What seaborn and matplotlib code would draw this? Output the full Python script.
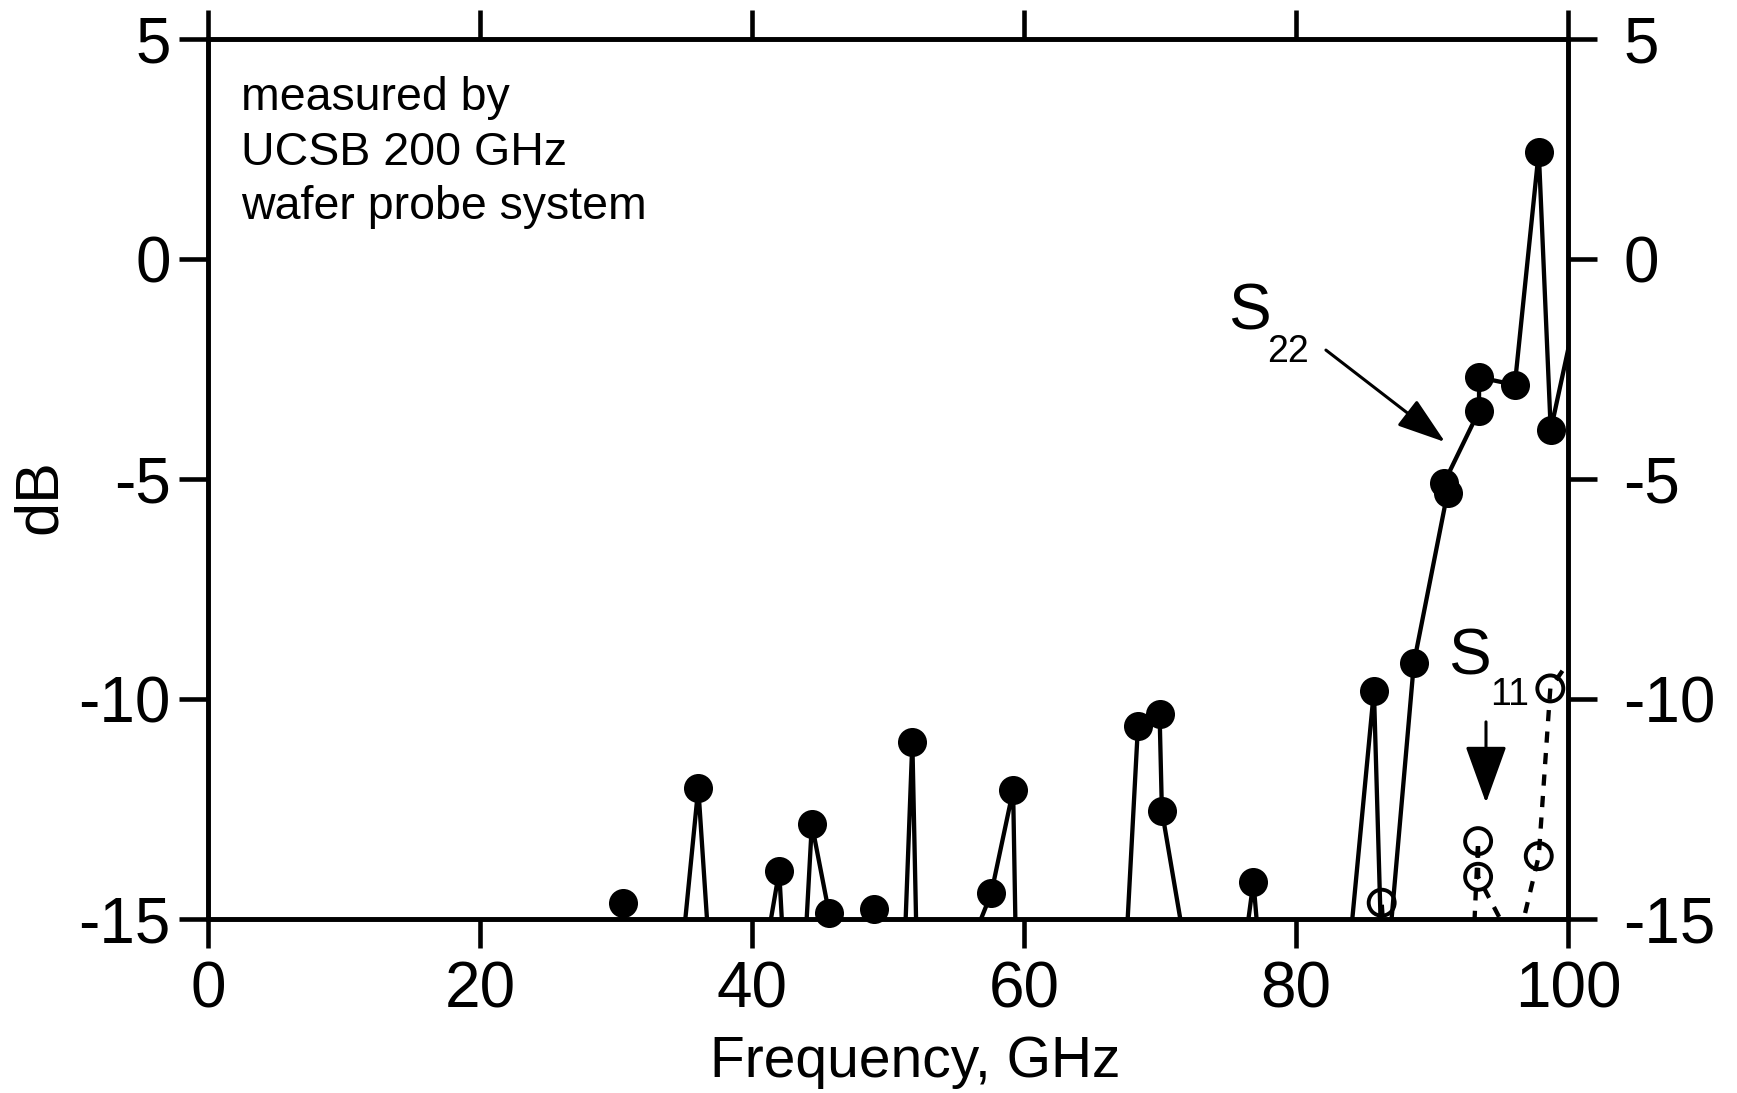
import pandas as pd
import matplotlib.pyplot as plt
import seaborn as sns

# S22 trace (points below -15 dB run off the bottom of the plot)
s22_freq = [28.0, 30.5, 33.5, 36.05, 38.0, 42.0, 43.1, 44.4, 45.67, 47.3, 49.0,
            50.2, 51.79, 52.3, 57.59, 59.2, 59.7, 65.9, 68.38, 69.97, 70.14,
            74.3, 76.87, 80.4, 85.73, 86.42, 88.67, 91.14, 90.9, 93.46, 93.46,
            96.09, 97.85, 98.73, 100.4]
s22_db = [-22, -14.64, -20, -12.02, -21.1, -13.91, -20.2, -12.85, -14.87, -22, -14.77,
          -24, -10.97, -18.5, -14.42, -12.07, -21, -25, -10.61, -10.35, -12.54,
          -20.1, -14.15, -27.2, -9.81, -17.15, -9.18, -5.31, -5.08, -3.45, -2.69,
          -2.86, 2.44, -3.89, -1.5]

# S11 trace
s11_freq = [84.0, 86.3, 88.5, 92.4, 93.39, 93.39, 96.2, 97.85, 98.7, 101.5]
s11_db = [-25, -14.63, -25, -20, -13.23, -14.04, -15.7, -13.57, -9.76, -8.5]

x_ticks = [0, 20, 40, 60, 80, 100]
y_ticks = [-15, -10, -5, 0, 5]

s22 = pd.DataFrame({'freq': s22_freq, 'dB': s22_db})
s11 = pd.DataFrame({'freq': s11_freq, 'dB': s11_db})
s22_vis = s22[(s22['dB'] >= -15) & (s22['freq'] <= 100)]
s11_vis = s11[(s11['dB'] >= -15) & (s11['freq'] <= 100)]

sns.set_style('ticks')
plt.rcParams['font.family'] = ['Liberation Sans', 'DejaVu Sans']
plt.rcParams['axes.unicode_minus'] = False
plt.rcParams['text.color'] = 'black'
plt.rcParams['axes.labelcolor'] = 'black'
plt.rcParams['xtick.color'] = 'black'
plt.rcParams['ytick.color'] = 'black'

fig = plt.figure(figsize=(17.37, 10.93), dpi=100)
ax = fig.add_axes([208 / 1737, 1 - 919 / 1093, 1360 / 1737, 880 / 1093])

sns.lineplot(data=s22, x='freq', y='dB', sort=False, estimator=None,
             color='black', lw=3.1, ax=ax, legend=False)
sns.lineplot(data=s11, x='freq', y='dB', sort=False, estimator=None,
             color='black', lw=3.1, ax=ax, legend=False)
ax.lines[1].set_dashes((2.6, 2.4))

sns.scatterplot(data=s22_vis, x='freq', y='dB', s=437, color='black',
                linewidth=0, ax=ax, clip_on=False, zorder=4)
sns.scatterplot(data=s11_vis, x='freq', y='dB', s=350, facecolor='none',
                edgecolor='black', linewidth=2.8, ax=ax, clip_on=False, zorder=4)

ax.set_xlim(0, 100)
ax.set_ylim(-15, 5)
ax.set_xticks(x_ticks)
ax.set_yticks(y_ticks)
ax.set_xlabel('')
ax.set_ylabel('')

for sp in ax.spines.values():
    sp.set_linewidth(3.3)
    sp.set_color('black')
ax.tick_params(axis='both', direction='out', length=21, width=3.3,
               labelsize=46, colors='black')
ax.tick_params(axis='x', top=True, labeltop=False, pad=9)
ax.tick_params(axis='y', pad=6)

ax2 = ax.twinx()
ax2.set_ylim(-15, 5)
ax2.set_yticks(y_ticks)
for sp in ax2.spines.values():
    sp.set_linewidth(3.3)
    sp.set_color('black')
ax2.tick_params(axis='y', direction='out', length=21, width=3.3,
                labelsize=46, pad=19, colors='black')

# axis titles
ax.text(0.52, -0.18, 'Frequency, GHz', transform=ax.transAxes, fontsize=41,
        ha='center', va='baseline')
ax.text(-0.1235, 0.4795, 'dB', transform=ax.transAxes, fontsize=44,
        rotation=90, ha='center', va='center')

# note
ax.text(2.45, 3.39, 'measured by', fontsize=33.5, va='baseline')
ax.text(2.45, 2.14, 'UCSB 200 GHz', fontsize=33.5, va='baseline')
ax.text(2.45, 0.91, 'wafer probe system', fontsize=33.5, va='baseline')

# trace labels
ax.text(75.0, -1.61, 'S', fontsize=46, va='baseline')
ax.text(77.9, -2.33, '22', fontsize=27, va='baseline')
ax.annotate('', xy=(90.96, -4.16), xytext=(82.2, -2.07),
            arrowprops=dict(arrowstyle='-|>,head_length=1.5,head_width=0.5',
                            lw=2.2, color='black', shrinkA=0, shrinkB=0,
                            mutation_scale=20))
ax.text(91.2, -9.45, 'S', fontsize=46, va='baseline')
ax.text(94.3, -10.14, '11', fontsize=27, va='baseline')
ax.annotate('', xy=(93.97, -12.36), xytext=(93.97, -10.52),
            arrowprops=dict(arrowstyle='-|>,head_length=1.8,head_width=0.65',
                            lw=2.2, color='black', shrinkA=0, shrinkB=0,
                            mutation_scale=20))

fig.savefig('out.png', dpi=100)
